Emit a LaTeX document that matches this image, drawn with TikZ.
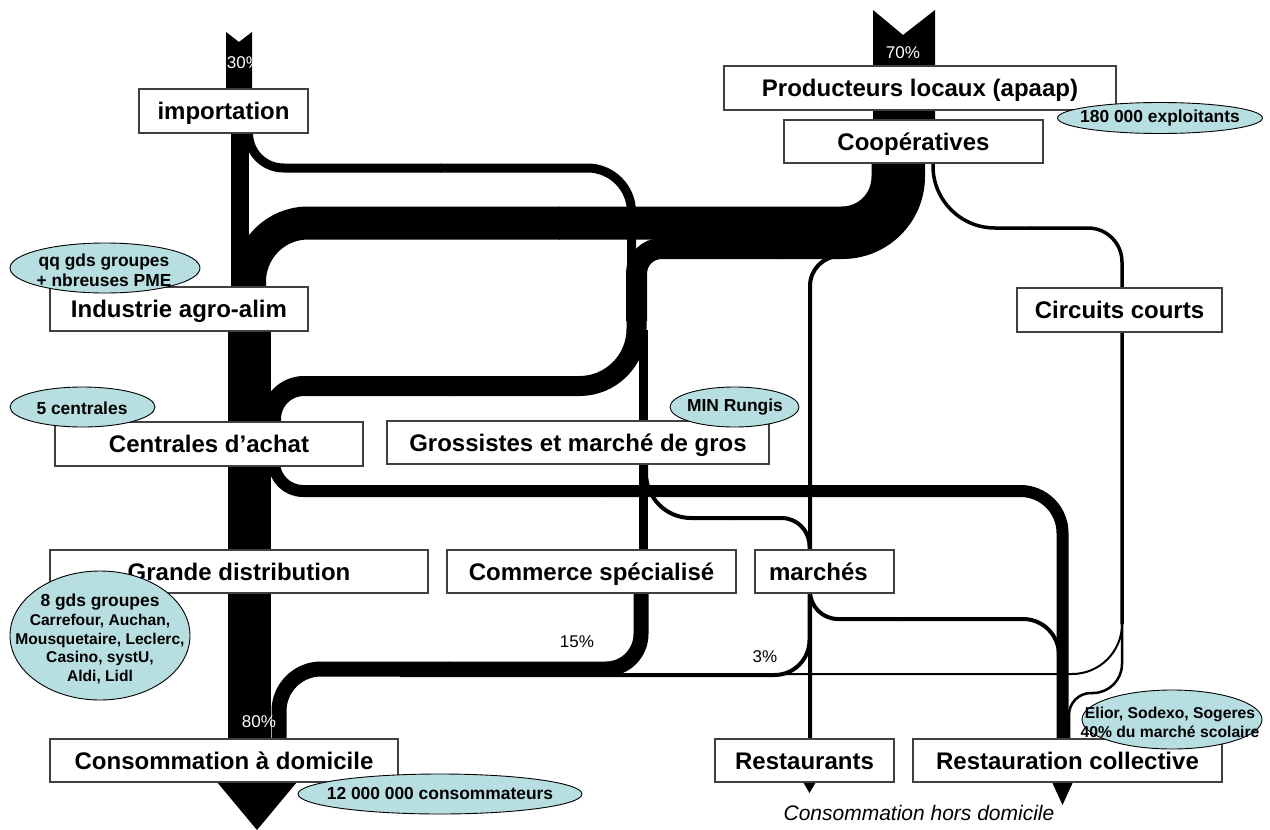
\documentclass[tikz,border=0pt]{standalone}
\usepackage{fontspec}
\setmainfont{Liberation Sans}
\usetikzlibrary{shapes.geometric}
\definecolor{blobc}{RGB}{183,222,225}
\begin{document}
\begin{tikzpicture}[x=1pt,y=-1pt,
  fl/.style={draw=black,line width=#1},
  box/.style={draw=black!75,fill=white,line width=1.2pt,inner sep=0pt,text height=17.2pt,text depth=0pt,font=\bfseries\fontsize{24}{28}\selectfont},
  blob/.style={ellipse,draw=black,fill=blobc,line width=0.9pt,inner sep=0pt},
  btxt/.style={inner sep=0pt,align=center,font=\bfseries\fontsize{17.4}{20}\selectfont},
  pct/.style={inner sep=0pt,font=\fontsize{17}{20}\selectfont}]
\useasboundingbox (0,0) rectangle (1270,830);
% main trunk
\fill (226,32) -- (239,42) -- (252,32) -- (252,100) -- (226,100) -- cycle;
\draw[fl=18pt] (240,95) -- (240,300);
\draw[fl=43pt] (249.5,290) -- (249.5,770);
\fill (217,782) -- (297,782) -- (257,830) -- cycle;
% cooperatives input
\fill (873,10) -- (903,35) -- (935,10) -- (935,140) -- (873,140) -- cycle;
% importation branch
\draw[fl=9pt,rounded corners=35pt] (248.5,133) -- (248.5,168) -- (441,168);
\draw[fl=9pt,rounded corners=44pt] (440,168) -- (631.5,168) -- (631.5,340);
% coop -> industrie
\draw[fl=33pt,rounded corners=46pt] (888,150) -- (888,223) -- (559,223);
\draw[fl=33pt,rounded corners=58.5pt] (560,223) -- (249.5,223) -- (249.5,300);
% coop -> centrales
\draw[fl=21pt,rounded corners=72pt] (914.5,150) -- (914.5,248.5) -- (779,248.5);
\draw[fl=21pt,rounded corners=25pt] (780,248.5) -- (636.5,248.5) -- (636.5,321);
\draw[fl=20pt,rounded corners=57pt] (636.5,319) -- (636.5,386) -- (449,386);
\draw[fl=20pt,rounded corners=33pt] (450,386) -- (271,386) -- (271,450);
% -> grossistes -> commerce
\draw[fl=9pt] (643,330) -- (643,560);
% grossistes -> marches
\draw[fl=4pt,rounded corners=45pt] (646,460) -- (646,518) -- (731,518);
\draw[fl=4pt,rounded corners=28pt] (730,518) -- (809.5,518) -- (809.5,560);
% centrales -> restauration collective
\draw[fl=12pt,rounded corners=29pt] (274,440) -- (274,491) -- (601,491);
\draw[fl=12pt,rounded corners=42pt] (600,491) -- (1062.5,491) -- (1062.5,750);
\fill (1052,782) -- (1073,782) -- (1062.5,805) -- cycle;
% commerce -> consommation
\draw[fl=15pt,rounded corners=35pt] (641,585) -- (641,669) -- (449,669);
\draw[fl=15pt,rounded corners=42pt] (450,669) -- (279,669) -- (279,750);
% marches -> consommation (3%)
\draw[fl=4pt,rounded corners=35pt] (809.5,585) -- (809.5,675) -- (400,675);
% marches -> restauration collective
\draw[fl=4pt,rounded corners=28pt] (810,585) -- (810,619) -- (901,619);
\draw[fl=4pt,rounded corners=36pt] (900,619) -- (1059,619) -- (1059,700);
% coop -> restaurants
\draw[fl=4pt,rounded corners=30pt] (850,256) -- (810,256) -- (810,770);
\fill (803,782) -- (816,782) -- (809.5,793) -- cycle;
% circuits courts
\draw[fl=3.5pt,rounded corners=62pt] (933,150) -- (933,228) -- (1031,228);
\draw[fl=3.5pt,rounded corners=34pt] (1030,228) -- (1122,228) -- (1122,624);
\draw[fl=2pt,rounded corners=50pt] (1122,600) -- (1122,674) -- (600,674);
\draw[fl=2.5pt,rounded corners=29pt] (1122,600) -- (1122,693) -- (1091.5,693);
\draw[fl=2.5pt,rounded corners=22pt] (1092.5,693) -- (1069,693) -- (1069,739);
% boxes
\node[box,minimum width=169pt,minimum height=44pt] (imp) at (223.5,111) {importation};
\node[box,minimum width=392pt,minimum height=44pt] (prod) at (920,88) {Producteurs locaux (apaap)};
\node[box,minimum width=259pt,minimum height=43pt] (coop) at (913.5,141.5) {Coopératives};
\node[box,minimum width=258pt,minimum height=44pt] (ind) at (179,309) {Industrie agro-alim};
\node[box,minimum width=205pt,minimum height=44pt] (cc) at (1119.5,310) {Circuits courts};
\node[box,minimum width=308pt,minimum height=44pt] (cen) at (209,444) {Centrales d’achat};
\node[box,minimum width=382pt,minimum height=43pt] (gro) at (578,442.5) {Grossistes et marché de gros};
\node[box,minimum width=378pt,minimum height=43pt] (gd) at (239,571.5) {Grande distribution};
\node[box,minimum width=289pt,minimum height=43pt] (com) at (591.5,571.5) {Commerce spécialisé};
\node[box,text width=111pt,inner xsep=14pt,align=left,minimum height=43pt] (mar) at (824.5,571.5) {marchés};
\node[box,minimum width=179pt,minimum height=43pt] (rest) at (804.5,760.5) {Restaurants};
\node[box,minimum width=309pt,minimum height=43pt] (rc) at (1067.5,760.5) {Restauration collective};
\node[box,minimum width=348pt,minimum height=43pt] (cad) at (224,760.5) {Consommation à domicile};
% ellipses
\node[blob,minimum width=205pt,minimum height=31pt] (e1) at (1160,118) {};
\node[btxt] (t1) at (1160,118) {180 000 exploitants};
\node[blob,minimum width=190pt,minimum height=50pt] (e2) at (105,268) {};
\node[btxt] (t2) at (104,270) {qq gds groupes\\+ nbreuses PME};
\node[blob,minimum width=145pt,minimum height=40pt] (e3) at (82.5,407) {};
\node[btxt] (t3) at (82,408) {5 centrales};
\node[blob,minimum width=129pt,minimum height=40pt] (e4) at (734.5,407) {};
\node[btxt] (t4) at (735,407) {MIN Rungis};
\node[blob,minimum width=180pt,minimum height=129pt] (e5) at (100,635.5) {};
\node[btxt,font=\bfseries\fontsize{15.6}{18.8}\selectfont] (t5) at (100,639) {{\fontsize{17.4}{18.8}\selectfont 8 gds groupes}\\Carrefour, Auchan,\\Mousquetaire, Leclerc,\\Casino, systU,\\Aldi, Lidl};
\node[blob,minimum width=284pt,minimum height=40pt] (e6) at (440,794) {};
\node[btxt] (t6) at (440,794) {12 000 000 consommateurs};
\node[blob,minimum width=180pt,minimum height=59pt] (e7) at (1172,719.5) {};
\node[btxt,font=\bfseries\fontsize{15.7}{19}\selectfont] (t7) at (1170,722) {Elior, Sodexo, Sogeres\\40\% du marché scolaire};
% labels
\node[pct,text=white] (p30) at (244,63) {30\%};
\node[pct,text=white] (p70) at (903,53) {70\%};
\node[pct,text=white] (p80) at (259,722) {80\%};
\node[pct] (p15) at (577,642) {15\%};
\node[pct] (p3) at (765,657) {3\%};
\node[inner sep=0pt,font=\itshape\fontsize{21}{24}\selectfont] (chd) at (919,813) {Consommation hors domicile};
\end{tikzpicture}
\end{document}
